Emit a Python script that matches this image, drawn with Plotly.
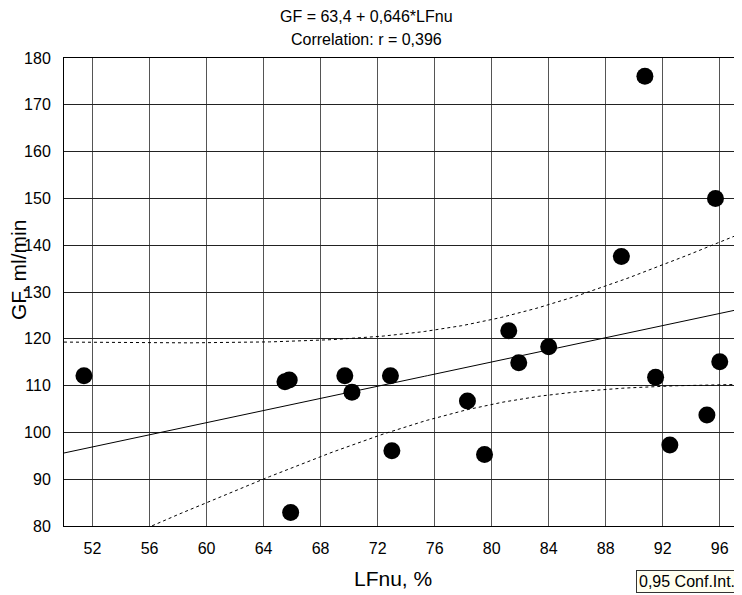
import numpy as np
import plotly.graph_objects as go

# Data
lfnu = [51.4, 65.5, 65.8, 65.9, 69.7, 70.2, 72.9, 73.0, 78.3, 79.5,
        81.2, 81.9, 84.0, 89.1, 90.75, 91.5, 92.5, 95.1, 95.7, 96.0]
gf = [112.1, 110.8, 111.2, 82.9, 112.1, 108.6, 112.1, 96.1, 106.7, 95.3,
      121.7, 114.9, 118.3, 137.6, 176.1, 111.8, 97.3, 103.7, 150.0, 115.1]
x_ticks = [52, 56, 60, 64, 68, 72, 76, 80, 84, 88, 92, 96]
y_ticks = [80, 90, 100, 110, 120, 130, 140, 150, 160, 170, 180]
title_lines = ["GF = 63,4 + 0,646*LFnu", "Correlation: r = 0,396"]
x_label = "LFnu, %"
y_label = "GF, ml/min"
legend_text = "0,95 Conf.Int."
t_crit = 2.101  # t(0.975, 18)

x = np.array(lfnu)
y = np.array(gf)
n = len(x)
b1, b0 = np.polyfit(x, y, 1)
resid = y - (b0 + b1 * x)
s = np.sqrt(np.sum(resid ** 2) / (n - 2))
sxx = np.sum((x - x.mean()) ** 2)
xs = np.linspace(50, 97, 200)
fit = b0 + b1 * xs
half = t_crit * s * np.sqrt(1 / n + (xs - x.mean()) ** 2 / sxx)

FONT = "Liberation Sans, Arial, sans-serif"
fig = go.Figure()
fig.add_trace(go.Scatter(x=xs, y=fit + half, mode="lines",
                         line=dict(color="black", width=1, dash="dot"), hoverinfo="skip"))
fig.add_trace(go.Scatter(x=xs, y=fit - half, mode="lines",
                         line=dict(color="black", width=1, dash="dot"), hoverinfo="skip"))
fig.add_trace(go.Scatter(x=xs, y=fit, mode="lines",
                         line=dict(color="black", width=1), hoverinfo="skip"))
fig.add_trace(go.Scatter(x=lfnu, y=gf, mode="markers",
                         marker=dict(color="black", size=17)))

fig.update_layout(
    width=734, height=587,
    margin=dict(l=56, r=8, t=50, b=69),
    paper_bgcolor="white", plot_bgcolor="white",
    showlegend=False,
    font=dict(family=FONT, size=16, color="black"),
)
fig.update_xaxes(range=[50, 97], tickvals=x_ticks, showgrid=True, gridcolor="#555555",
                 gridwidth=1, showline=True, linecolor="black", linewidth=1, mirror=True,
                 ticks="", zeroline=False, ticklabelstandoff=8,
                 tickfont=dict(size=16))
fig.update_yaxes(range=[80, 180], tickvals=y_ticks, showgrid=True, gridcolor="#222222",
                 gridwidth=1, showline=True, linecolor="black", linewidth=1, mirror=True,
                 ticks="", zeroline=False, ticklabelstandoff=9,
                 tickfont=dict(size=16))

title_x = (366 - 64) / 670
fig.add_annotation(text=title_lines[0], xref="paper", yref="paper", x=title_x, y=1,
                   yshift=42, showarrow=False, font=dict(size=16), yanchor="middle")
fig.add_annotation(text=title_lines[1], xref="paper", yref="paper", x=title_x, y=1,
                   yshift=19, showarrow=False, font=dict(size=16), yanchor="middle")
fig.add_annotation(text=x_label, xref="paper", yref="paper", x=0.491, y=0,
                   yshift=-52, showarrow=False, font=dict(size=21), yanchor="middle")
fig.add_annotation(text=y_label, xref="paper", yref="paper", x=0, y=0.547,
                   xshift=-46, showarrow=False, font=dict(size=21),
                   textangle=-90, xanchor="center", yanchor="middle")
fig.add_annotation(text=legend_text, xref="paper", yref="paper", x=1, y=0,
                   xshift=4, yshift=-55, showarrow=False, font=dict(size=16),
                   xanchor="right", yanchor="middle", bgcolor="#FFFFF0",
                   bordercolor="#333333", borderwidth=1, borderpad=2)

fig.write_html("out.html")
